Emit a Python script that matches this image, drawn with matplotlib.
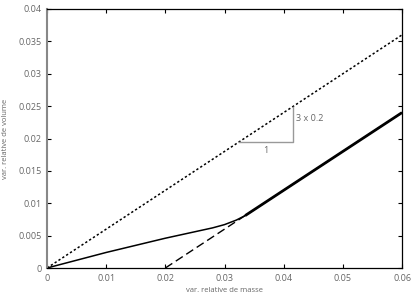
import numpy as np
import matplotlib.pyplot as plt

plt.rcParams['font.family'] = ['Open Sans', 'DejaVu Sans']

# data
x_dot = [0, 0.06]
y_dot = [0, 0.036]
x_dash = [0.02, 0.06]
y_dash = [0, 0.024]
x_curve = [0, 0.005, 0.01, 0.015, 0.02, 0.025, 0.028, 0.03, 0.032, 0.0335]
y_curve = [0, 0.0012, 0.0024, 0.0035, 0.0046, 0.0056, 0.0062, 0.0067, 0.0074, 0.0081]
x_thick = [0.0335, 0.06]
y_thick = [0.0081, 0.024]
tri_x = [0.0325, 0.0415, 0.0415]
tri_y = [0.0195, 0.0195, 0.0249]
xticks = [0, 0.01, 0.02, 0.03, 0.04, 0.05, 0.06]
yticks = [0, 0.005, 0.01, 0.015, 0.02, 0.025, 0.03, 0.035, 0.04]

fig = plt.figure(figsize=(4.11, 2.95), dpi=100)
ax = fig.add_axes([47/411, 27/295, 355/411, 259/295])

gray = '#666666'
ax.plot(x_dot, y_dot, color='black', lw=1.1, linestyle=(0, (1.5, 1.5)))
ax.plot(x_dash, y_dash, color='black', lw=1.0, linestyle=(0, (6, 3)))
ax.plot(x_curve, y_curve, color='black', lw=1.1)
ax.plot(x_thick, y_thick, color='black', lw=2.0, solid_capstyle='butt')
ax.plot(tri_x, tri_y, color='#999999', lw=1.0)
ax.text((tri_x[0] + tri_x[1]) / 2, tri_y[0] - 0.0006, '1', ha='center', va='top',
        fontsize=6.5, color=gray)
ax.text(tri_x[1] + 0.0005, (tri_y[1] + tri_y[2]) / 2 + 0.0009, '3 x 0.2', ha='left', va='center',
        fontsize=6.5, color=gray)

ax.set_xlim(0, 0.06)
ax.set_ylim(0, 0.04)
ax.set_xticks(xticks)
ax.set_yticks(yticks)
ax.set_xticklabels(['0', '0.01', '0.02', '0.03', '0.04', '0.05', '0.06'])
ax.set_yticklabels(['0', '0.005', '0.01', '0.015', '0.02', '0.025', '0.03', '0.035', '0.04'])
ax.tick_params(direction='in', top=True, right=True, length=3, width=0.8,
               labelsize=6.5, labelcolor=gray, pad=4)
for s in ['top', 'right', 'bottom']:
    ax.spines[s].set_color('black')
    ax.spines[s].set_linewidth(0.9)
ax.spines['left'].set_color('#888888')
ax.spines['left'].set_linewidth(1.5)

ax.set_xlabel('var. relative de masse', fontsize=5.5, color=gray)
ax.set_ylabel('var. relative de volume', fontsize=5.5, color=gray)
ax.xaxis.set_label_coords(0.5, -0.075)
ax.yaxis.set_label_coords(-0.108, 0.5)

fig.savefig('out.png', dpi=100)
